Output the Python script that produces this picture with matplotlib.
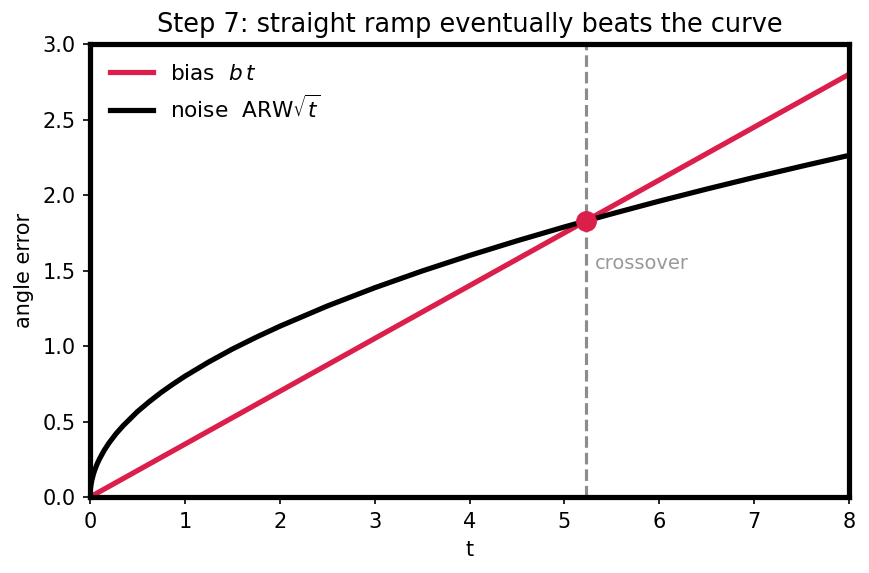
import matplotlib
matplotlib.use("Agg")
import matplotlib.pyplot as plt

# values
t_bias = [0.0, 8.0]
bias = [0.0, 2.8]

t_noise = [0.0, 0.002, 0.005, 0.01, 0.02, 0.035, 0.05, 0.075, 0.1, 0.15, 0.2, 0.275,
           0.35, 0.5, 0.625, 0.75, 0.875, 1.0, 1.25, 1.5, 1.75, 2.0, 2.5, 3.0, 3.5,
           4.0, 4.5, 5.0, 5.5, 6.0, 6.5, 7.0, 7.5, 8.0]
noise = [0.0, 0.036, 0.057, 0.080, 0.113, 0.150, 0.179, 0.219, 0.253, 0.310, 0.358,
         0.420, 0.473, 0.566, 0.632, 0.693, 0.748, 0.800, 0.894, 0.980, 1.058,
         1.131, 1.265, 1.386, 1.497, 1.600, 1.697, 1.789, 1.876, 1.960, 2.040,
         2.117, 2.191, 2.263]

t_cross = 5.224
y_cross = 1.829

red = '#dc1e4b'

fig, ax = plt.subplots(figsize=(869/150, 573/150), dpi=150)
fig.subplots_adjust(left=0.1036, right=0.977, top=0.923, bottom=0.1326)

ax.plot(t_bias, bias, color=red, lw=2.5, label=r'bias  $b\,t$')
ax.plot(t_noise, noise, color='black', lw=2.5, label=r'noise  ARW$\sqrt{t}$')
ax.axvline(t_cross, color='#8c8c8c', ls='--', lw=1.5)
ax.plot([t_cross], [y_cross], 'o', color=red, ms=9, zorder=5)
ax.text(t_cross + 0.1, 1.55, 'crossover', color='#999999', fontsize=9.3, va='center')

ax.set_xlim(0, 8)
ax.set_ylim(0, 3.0)
ax.set_xlabel('t', fontsize=10)
ax.set_ylabel('angle error', fontsize=10)
ax.set_title('Step 7: straight ramp eventually beats the curve', fontsize=12.3)
ax.tick_params(labelsize=10)
for s in ax.spines.values():
    s.set_linewidth(2.5)
ax.legend(loc='upper left', frameon=False, fontsize=10.4)

fig.savefig('out.png', dpi=150)
